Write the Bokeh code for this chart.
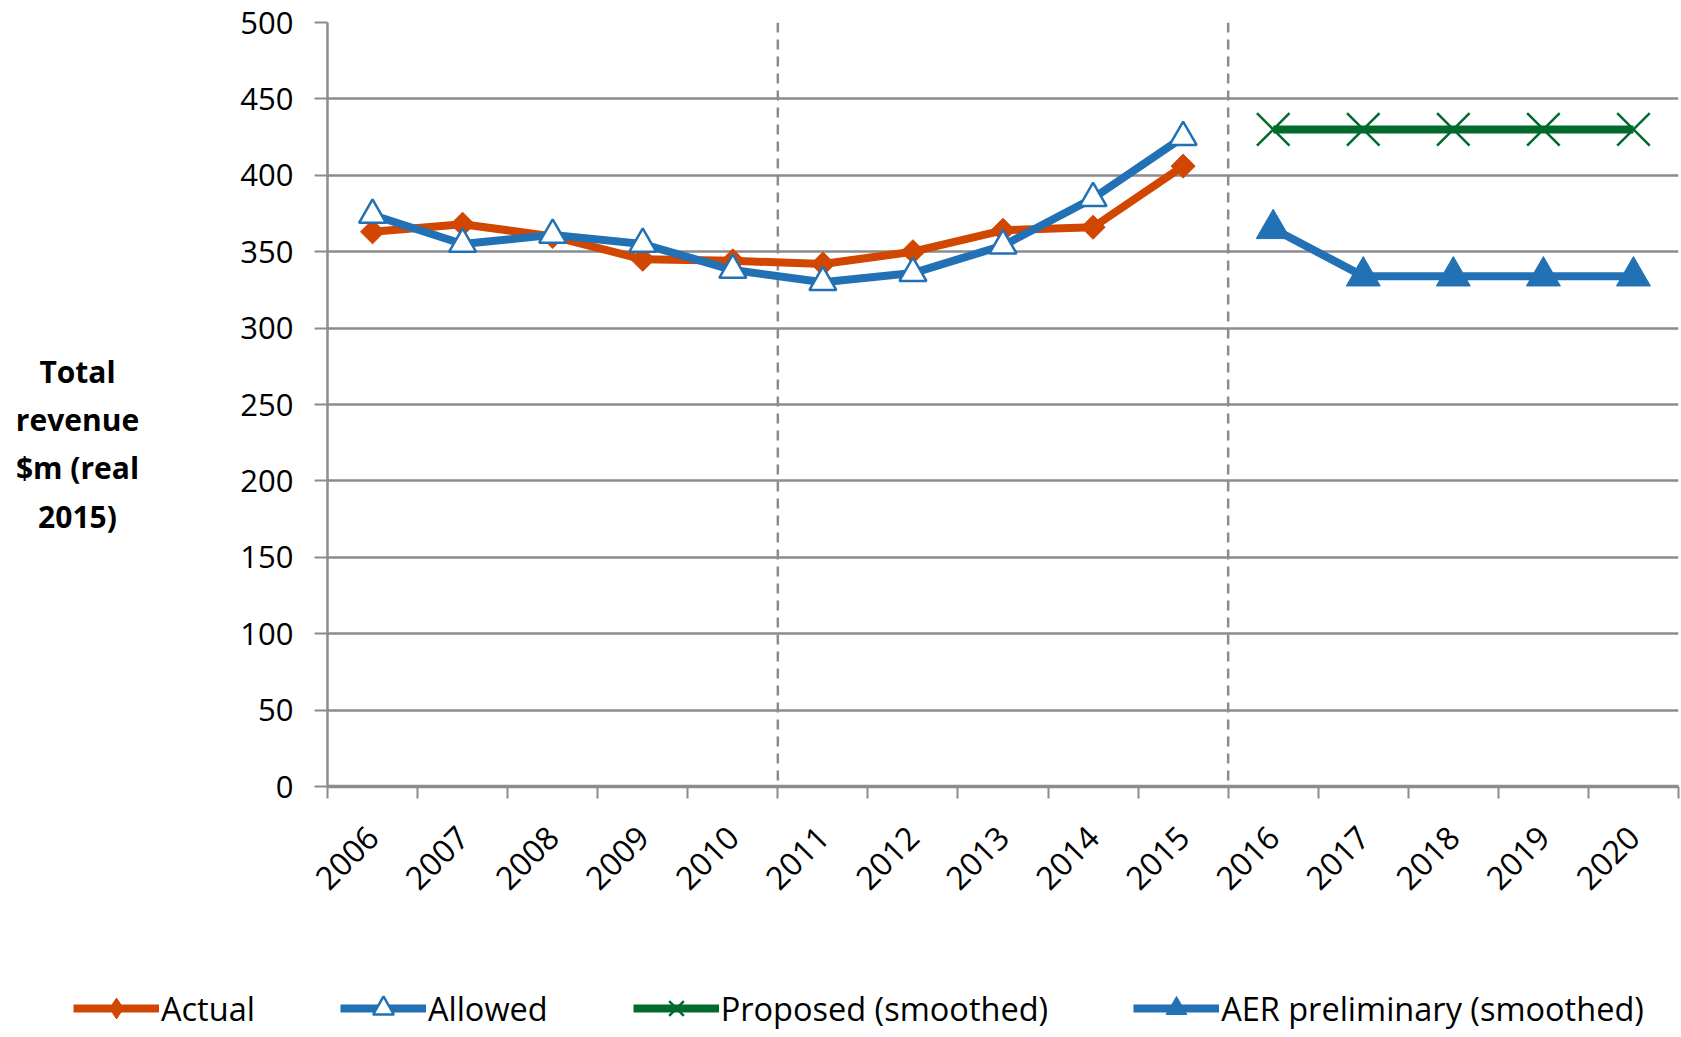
import math
from bokeh.plotting import figure
from bokeh.layouts import column, row
from bokeh.models import FixedTicker, Span, Legend, LegendItem, Range1d, Label
from bokeh.embed import file_html
from bokeh.resources import INLINE

# ---- data ----
years = [2006, 2007, 2008, 2009, 2010, 2011, 2012, 2013, 2014, 2015,
         2016, 2017, 2018, 2019, 2020]
hist_years = [2006, 2007, 2008, 2009, 2010, 2011, 2012, 2013, 2014, 2015]
actual = [363, 368, 360, 345, 344, 342, 350, 364, 366, 406]
allowed = [374, 355, 361, 355, 338, 330, 336, 354, 385, 425]
fcst_years = [2016, 2017, 2018, 2019, 2020]
proposed = [430, 430, 430, 430, 430]
aer_prelim = [365, 334, 334, 334, 334]
y_ticks = [0, 50, 100, 150, 200, 250, 300, 350, 400, 450, 500]
period_starts = [2011, 2016]
y_title_lines = ["Total", "revenue", "$m (real", "2015)"]
series_names = ["Actual", "Allowed", "Proposed (smoothed)", "AER preliminary (smoothed)"]

ORANGE = "#D14600"
BLUE = "#2271B5"
GREEN = "#006B2C"
GRID = "#8C8C8C"
FONT = "Open Sans"

TOTAL_W, MAIN_H, LEG_H, TITLE_W = 1680, 940, 96, 180
FRAME_TOP, FRAME_BOTTOM = 22, 786

# ---------------- main chart ----------------
p = figure(width=TOTAL_W - TITLE_W, height=MAIN_H, output_backend="svg",
           toolbar_location=None,
           x_range=Range1d(years[0] - 0.5, years[-1] + 0.5),
           y_range=Range1d(y_ticks[0], y_ticks[-1]),
           min_border_left=327 - TITLE_W, min_border_right=2,
           min_border_top=FRAME_TOP, min_border_bottom=MAIN_H - FRAME_BOTTOM)
p.outline_line_color = None

p.xaxis.ticker = FixedTicker(ticks=years,
                             minor_ticks=[y - 0.5 for y in years] + [years[-1] + 0.5])
p.xaxis.major_label_overrides = {y: str(y) for y in years}
p.xaxis.major_label_orientation = math.pi / 4
p.xaxis.major_tick_line_color = None
p.xaxis.major_tick_in = 0
p.xaxis.major_tick_out = 0
p.xaxis.minor_tick_in = 0
p.xaxis.minor_tick_out = 12
p.xaxis.minor_tick_line_color = GRID
p.xaxis.minor_tick_line_width = 2
p.xaxis.axis_line_color = GRID
p.xaxis.axis_line_width = 3.5
p.xaxis.major_label_text_font = FONT
p.xaxis.major_label_text_font_size = "32px"
p.xaxis.major_label_text_color = "black"
p.xaxis.major_label_standoff = 33

p.yaxis.ticker = FixedTicker(ticks=y_ticks)
p.yaxis.minor_tick_line_color = None
p.yaxis.major_tick_in = 0
p.yaxis.major_tick_out = 13
p.yaxis.major_tick_line_color = GRID
p.yaxis.major_tick_line_width = 2
p.yaxis.axis_line_color = GRID
p.yaxis.axis_line_width = 2.5
p.yaxis.major_label_text_font = FONT
p.yaxis.major_label_text_font_size = "31px"
p.yaxis.major_label_text_color = "black"
p.yaxis.major_label_standoff = 21

p.xgrid.grid_line_color = None
p.ygrid.ticker = FixedTicker(ticks=y_ticks)
p.ygrid.grid_line_color = GRID
p.ygrid.grid_line_width = 2.5

for ys in period_starts:
    p.add_layout(Span(location=ys - 0.5, dimension="height", line_color=GRID,
                      line_width=2.5, line_dash="10 7", level="underlay"))

STYLES = [
    dict(color=ORANGE, marker="square", leg_marker="diamond", angle=math.pi / 4,
         size=17, fill=ORANGE, lw=1),
    dict(color=BLUE, marker="triangle", leg_marker="triangle", angle=0, size=27,
         fill="white", lw=2.5),
    dict(color=GREEN, marker="x", leg_marker="x", angle=0, size=46, fill=None, lw=2.5),
    dict(color=BLUE, marker="triangle", leg_marker="triangle", angle=0, size=34,
         fill=BLUE, lw=1),
]
series = [(hist_years, actual), (hist_years, allowed),
          (fcst_years, proposed), (fcst_years, aer_prelim)]

for (xs, ys), st in zip(series, STYLES):
    p.line(xs, ys, line_color=st["color"], line_width=8)
    p.scatter(xs, ys, marker=st["marker"], angle=st["angle"], size=st["size"],
              fill_color=st["fill"], line_color=st["color"], line_width=st["lw"])

# ---------------- y-axis title panel (frame aligned with main chart) ----------------
tf = figure(width=TITLE_W, height=MAIN_H, output_backend="svg", toolbar_location=None,
            x_range=Range1d(0, TITLE_W), y_range=Range1d(y_ticks[0], y_ticks[-1]),
            x_axis_type=None, y_axis_type=None, min_border=0,
            min_border_top=FRAME_TOP, min_border_bottom=MAIN_H - FRAME_BOTTOM)
tf.outline_line_color = None
tf.grid.visible = False
title_centres_px = [371, 419, 467, 516]
span_px = FRAME_BOTTOM - FRAME_TOP
for txt, cy in zip(y_title_lines, title_centres_px):
    tf.add_layout(Label(x=77, y=(FRAME_BOTTOM - cy) / span_px * y_ticks[-1], text=txt,
                        text_align="center", text_baseline="middle", text_font=FONT,
                        text_font_style="bold", text_font_size="30px",
                        text_color="black"))

# ---------------- legend panel ----------------
lf = figure(width=TOTAL_W, height=LEG_H, output_backend="svg", toolbar_location=None,
            x_range=Range1d(0, TOTAL_W), y_range=Range1d(0, LEG_H),
            x_axis_type=None, y_axis_type=None, min_border=0)
lf.outline_line_color = None
lf.grid.visible = False
items = []
for name, st in zip(series_names, STYLES):
    lr = lf.line([-200, -100], [-200, -200], line_color=st["color"], line_width=8)
    sr = lf.scatter([-150], [-200], marker=st["leg_marker"], size=st["size"],
                    fill_color=st["fill"], line_color=st["color"], line_width=st["lw"])
    items.append(LegendItem(label=name, renderers=[lr, sr]))
legend = Legend(items=items, orientation="horizontal", location=(73, 2),
                glyph_width=86, glyph_height=52, label_height=52, label_standoff=2,
                spacing=85, padding=0, margin=0,
                label_text_font=FONT, label_text_font_size="32.5px",
                label_text_color="black",
                background_fill_alpha=0, border_line_color=None)
lf.add_layout(legend, "center")

layout = column(row(tf, p), lf)
open("out.html", "w").write(file_html(layout, INLINE))
